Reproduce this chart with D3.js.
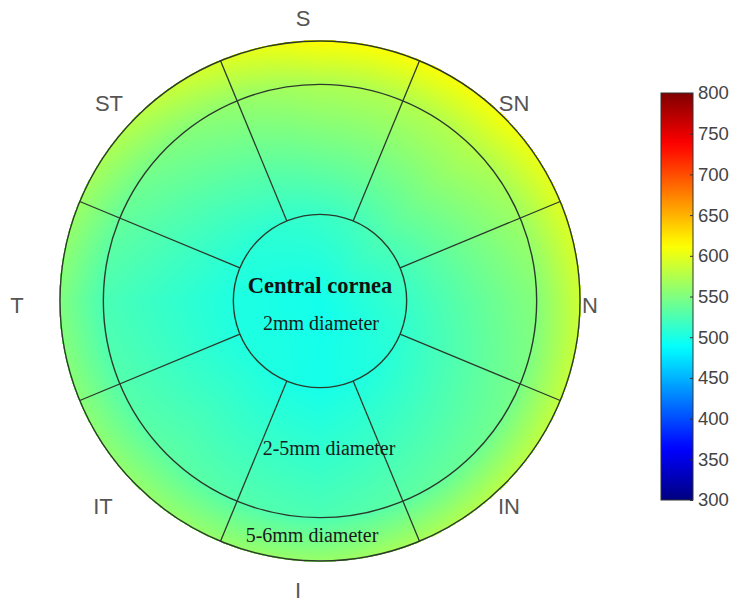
<!DOCTYPE html>
<html>
<head>
<meta charset="utf-8">
<script src="https://cdn.jsdelivr.net/npm/d3@7"></script>
<style>
  html, body { margin: 0; padding: 0; background: #fff; }
  svg { display: block; }
</style>
</head>
<body>
<svg id="chart" width="744" height="609"></svg>
<script>
// ---- data (corneal thickness, micrometres) ----
const directions = ["S", "SN", "N", "IN", "I", "IT", "T", "ST"];      // clockwise from top
const directionAngles = [0, 45, 90, 135, 180, 225, 270, 315];        // degrees
const radiiMm = [0, 1, 2.5, 3];                                      // map sample radii
const centerValue = 497;
const ring1mm   = [515, 525, 515, 505, 498, 503, 502, 508];
const ring2_5mm = [572, 576, 553, 540, 525, 533, 524, 550];
const ring3mm   = [612, 608, 588, 578, 562, 560, 550, 578];
const zoneRadiiMm = [1, 2.5, 3];                                     // 2mm, 5mm, 6mm diameters
const colorTicks = [300, 350, 400, 450, 500, 550, 600, 650, 700, 750, 800];
const colorDomain = [300, 800];

// ---- layout ----
const cx = 320, cy = 301, R = 260;
const svg = d3.select("#chart");
const rScale = d3.scaleLinear().domain([0, 3]).range([0, R]);

function jet(t) {
  const c = v => Math.max(0, Math.min(1, v));
  const r = c(1.5 - Math.abs(4 * t - 3));
  const g = c(1.5 - Math.abs(4 * t - 2));
  const b = c(1.5 - Math.abs(4 * t - 1));
  return d3.rgb(r * 255, g * 255, b * 255);
}
const color = d3.scaleSequential(jet).domain(colorDomain);

// radial profile for each direction through linear scales
const profiles = directions.map((d, i) =>
  d3.scaleLinear().domain(radiiMm).range([centerValue, ring1mm[i], ring2_5mm[i], ring3mm[i]]).clamp(true));

function valueAt(rMm, deg) {
  const a = ((deg % 360) + 360) % 360 / 45;
  const i0 = Math.floor(a) % 8, i1 = (i0 + 1) % 8, f = a - Math.floor(a);
  return profiles[i0](rMm) * (1 - f) + profiles[i1](rMm) * f;
}

// ---- thickness map (rendered pixel by pixel) ----
const size = 2 * R + 4;
const canvas = document.createElement("canvas");
canvas.width = size; canvas.height = size;
const ctx = canvas.getContext("2d");
const img = ctx.createImageData(size, size);
for (let y = 0; y < size; y++) {
  for (let x = 0; x < size; x++) {
    const dx = x + 0.5 - size / 2, dy = y + 0.5 - size / 2;
    const rp = Math.sqrt(dx * dx + dy * dy);
    if (rp > R + 1) continue;
    const deg = Math.atan2(dx, -dy) * 180 / Math.PI;
    const c = color(valueAt(rScale.invert(rp), deg));
    const k = (y * size + x) * 4;
    img.data[k] = c.r; img.data[k + 1] = c.g; img.data[k + 2] = c.b; img.data[k + 3] = 255;
  }
}
ctx.putImageData(img, 0, 0);
svg.append("image")
  .attr("x", cx - size / 2).attr("y", cy - size / 2)
  .attr("width", size).attr("height", size)
  .attr("href", canvas.toDataURL());

// ---- zone outlines ----
const lineColor = "#2c3a2c";
svg.append("g").selectAll("circle").data(zoneRadiiMm).join("circle")
  .attr("cx", cx).attr("cy", cy).attr("r", d => rScale(d))
  .attr("fill", "none").attr("stroke", lineColor).attr("stroke-width", 1.4);

svg.append("g").selectAll("line").data(directionAngles).join("line")
  .each(function (d) {
    const a = (d + 22.5) * Math.PI / 180;
    d3.select(this)
      .attr("x1", cx + rScale(1) * Math.sin(a)).attr("y1", cy - rScale(1) * Math.cos(a))
      .attr("x2", cx + rScale(3) * Math.sin(a)).attr("y2", cy - rScale(3) * Math.cos(a));
  })
  .attr("stroke", lineColor).attr("stroke-width", 1.3);

// ---- direction labels ----
const labelPos = {
  S: [303, 26], SN: [514, 111], N: [590, 313], IN: [509, 514],
  I: [298, 598], IT: [103, 514], T: [17, 313], ST: [109, 111]
};
svg.append("g").selectAll("text").data(directions).join("text")
  .attr("x", d => labelPos[d][0]).attr("y", d => labelPos[d][1])
  .attr("text-anchor", "middle")
  .attr("font-family", "Liberation Sans, Arial, sans-serif")
  .attr("font-size", 22).attr("fill", "#555")
  .text(d => d);

// ---- zone texts ----
const serif = "Liberation Serif, Times New Roman, serif";
svg.append("text").attr("x", 320).attr("y", 293).attr("text-anchor", "middle")
  .attr("font-family", serif).attr("font-weight", "bold").attr("font-size", 22.5)
  .attr("fill", "#111").text("Central cornea");
svg.append("text").attr("x", 321).attr("y", 330).attr("text-anchor", "middle")
  .attr("font-family", serif).attr("font-size", 20).attr("fill", "#1a1a1a").text("2mm diameter");
svg.append("text").attr("x", 329).attr("y", 455).attr("text-anchor", "middle")
  .attr("font-family", serif).attr("font-size", 20).attr("fill", "#1a1a1a").text("2-5mm diameter");
svg.append("text").attr("x", 312).attr("y", 542).attr("text-anchor", "middle")
  .attr("font-family", serif).attr("font-size", 20).attr("fill", "#1a1a1a").text("5-6mm diameter");

// ---- colour bar ----
const barX = 661, barW = 32;
const yBar = d3.scaleLinear().domain(colorDomain).range([500, 93]);
const defs = svg.append("defs");
const grad = defs.append("linearGradient").attr("id", "jetgrad")
  .attr("x1", 0).attr("y1", 1).attr("x2", 0).attr("y2", 0);
d3.range(0, 1.0001, 0.02).forEach(t => {
  grad.append("stop").attr("offset", t)
    .attr("stop-color", color(colorDomain[0] + t * (colorDomain[1] - colorDomain[0])));
});
svg.append("rect").attr("x", barX).attr("y", yBar(800)).attr("width", barW)
  .attr("height", yBar(300) - yBar(800)).attr("fill", "url(#jetgrad)")
  .attr("stroke", "#333").attr("stroke-width", 1);

const axis = d3.axisRight(yBar).tickValues(colorTicks).tickSize(0).tickPadding(5);
const ax = svg.append("g").attr("transform", `translate(${barX + barW},0)`).call(axis);
ax.select(".domain").remove();
ax.selectAll("text").attr("font-family", "Liberation Sans, Arial, sans-serif")
  .attr("font-size", 18.5).attr("fill", "#444");
ax.selectAll(".tick").append("line").attr("x1", -3).attr("x2", 0)
  .attr("stroke", "#333").attr("stroke-width", 1);
</script>
</body>
</html>
